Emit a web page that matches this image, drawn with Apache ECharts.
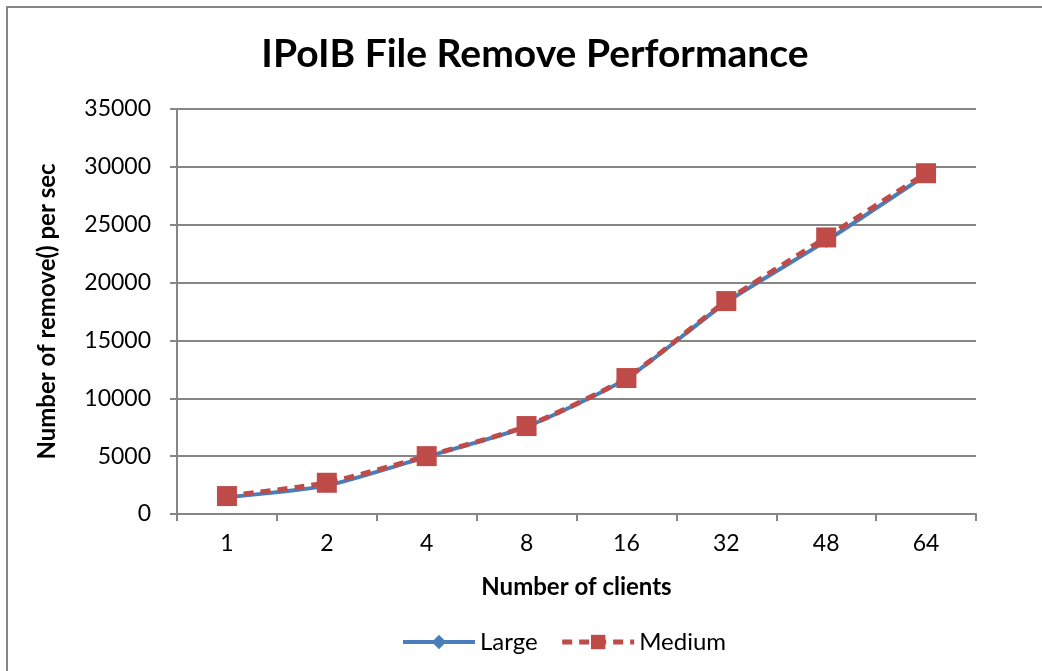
<!DOCTYPE html>
<html>
<head>
<meta charset="utf-8">
<script src="https://cdn.jsdelivr.net/npm/echarts@6/dist/echarts.min.js"></script>
<style>
  html, body { margin: 0; padding: 0; background: #fff; }
  #chart { width: 1042px; height: 671px; }
</style>
</head>
<body>
<div id="chart"></div>
<script>
// values
const clients = ['1', '2', '4', '8', '16', '32', '48', '64']
const large = [1450, 2450, 4950, 7550, 11700, 18300, 23600, 29300]
const medium = [1550, 2700, 5000, 7600, 11750, 18400, 23900, 29450]
const yTicks = { min: 0, max: 35000, interval: 5000 }

const font = 'Lato, "Open Sans", sans-serif'
const axisGray = '#868686'
const blue = '#4a7ebb'
const red = '#be4b48'

const chart = echarts.init(document.getElementById('chart'))
const option = {
  backgroundColor: '#fff',
  animation: false,
  textStyle: { fontFamily: font },
  title: {
    text: 'IPoIB File Remove Performance',
    left: 530,
    textAlign: 'center',
    top: 30,
    textStyle: { fontFamily: font, fontSize: 39, fontWeight: 'bold', color: '#000' },
  },
  graphic: [
    {
      type: 'rect',
      shape: { x: 7, y: 7, width: 1050, height: 680 },
      style: { fill: 'none', stroke: axisGray, lineWidth: 2 },
      silent: true,
    },
  ],
  legend: {
    bottom: 12,
    left: 396,
    itemWidth: 72,
    itemHeight: 18,
    itemGap: 22,
    textStyle: { fontFamily: font, fontSize: 24, color: '#000' },
    data: [
      { name: 'Large', lineStyle: { width: 4, color: blue } },
      { name: 'Medium', lineStyle: { width: 5, color: red, type: [10, 7] } },
    ],
  },
  grid: { left: 177, right: 66, top: 109, bottom: 157 },
  xAxis: {
    type: 'category',
    data: clients,
    boundaryGap: true,
    name: 'Number of clients',
    nameLocation: 'middle',
    nameGap: 61,
    nameTextStyle: { fontFamily: font, fontSize: 24, fontWeight: 'bold', color: '#000' },
    axisLine: { lineStyle: { color: axisGray, width: 2 } },
    axisTick: { show: true, length: 7, alignWithLabel: false, lineStyle: { color: axisGray, width: 2 } },
    axisLabel: { color: '#000', fontSize: 23, fontFamily: font, margin: 18 },
  },
  yAxis: {
    type: 'value',
    min: yTicks.min,
    max: yTicks.max,
    interval: yTicks.interval,
    name: 'Number of remove() per sec',
    nameLocation: 'middle',
    nameGap: 118,
    nameTextStyle: { fontFamily: font, fontSize: 24, fontWeight: 'bold', color: '#000' },
    axisLine: { show: true, lineStyle: { color: axisGray, width: 2 } },
    axisTick: { show: true, length: 7, lineStyle: { color: axisGray, width: 2 } },
    axisLabel: { color: '#000', fontSize: 23, fontFamily: font, margin: 26, formatter: v => String(v) },
    splitLine: { lineStyle: { color: axisGray, width: 2 } },
  },
  series: [
    {
      name: 'Large',
      type: 'line',
      data: large,
      smooth: 0.2,
      symbol: 'diamond',
      symbolSize: 14,
      itemStyle: { color: blue },
      lineStyle: { color: blue, width: 4 },
    },
    {
      name: 'Medium',
      type: 'line',
      data: medium,
      smooth: 0.2,
      symbol: 'rect',
      symbolSize: 20,
      itemStyle: { color: red },
      lineStyle: { color: red, width: 5, type: [10, 7] },
    },
  ],
}
chart.setOption(option)
</script>
</body>
</html>
